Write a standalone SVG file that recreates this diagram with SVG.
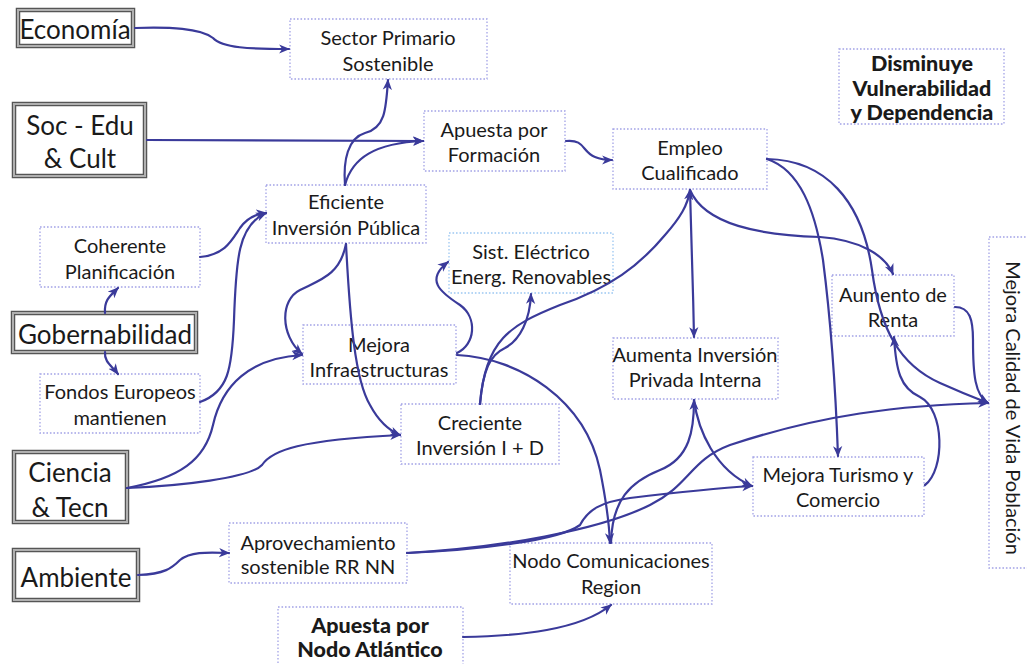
<svg xmlns="http://www.w3.org/2000/svg" width="1027" height="664" viewBox="0 0 1027 664">
<style>
text{font-family:Lato,"Open Sans","Liberation Sans",sans-serif;fill:#1a1a1a;text-anchor:middle}
.t{font-size:20px}
.b{font-size:21.5px;font-weight:900}
.h{font-size:26px}
.d{fill:#fff;stroke:#a3a3e6;stroke-width:1.3;stroke-dasharray:1.6 1.9}
.e{fill:#fff;stroke:#9cc7f2;stroke-width:1.3;stroke-dasharray:1.6 1.9}
.o{fill:#fff;stroke:#555;stroke-width:4.5}
.i{fill:none;stroke:#b0b0b0;stroke-width:2}
#edges path{fill:none;stroke:#3a3a9a;stroke-width:2.2;stroke-linecap:round}
</style>
<defs>
<marker id="a" viewBox="0 0 10 10" refX="9" refY="5" markerWidth="11" markerHeight="11" markerUnits="userSpaceOnUse" orient="auto"><path d="M0,0.8 L10,5 L0,9.2 L2.8,5 z" fill="#3a3a9a"/></marker>
</defs>
<rect width="1027" height="664" fill="#fff"/>

<g id="sector"><rect class="d" x="290" y="19" width="197" height="60"/><text class="t" x="388" y="45">Sector Primario</text><text class="t" x="388" y="71">Sostenible</text></g>
<g id="formacion"><rect class="d" x="424" y="111" width="141" height="60"/><text class="t" x="494" y="137">Apuesta por</text><text class="t" x="494" y="162">Formación</text></g>
<g id="empleo"><rect class="d" x="613" y="129" width="154" height="60"/><text class="t" x="690" y="155">Empleo</text><text class="t" x="690" y="180">Cualificado</text></g>
<g id="disminuye"><rect class="d" x="839" y="49" width="165" height="75"/><text class="b" x="922" y="71">Disminuye</text><text class="b" x="922" y="96">Vulnerabilidad</text><text class="b" x="922" y="120">y Dependencia</text></g>
<g id="eficiente"><rect class="d" x="266" y="185" width="160" height="58"/><text class="t" x="346" y="209">Eficiente</text><text class="t" x="346" y="235">Inversión Pública</text></g>
<g id="coherente"><rect class="d" x="40" y="227" width="160" height="60"/><text class="t" x="120" y="253">Coherente</text><text class="t" x="120" y="279">Planificación</text></g>
<g id="fondos"><rect class="d" x="40" y="374" width="160" height="59"/><text class="t" x="120" y="399">Fondos Europeos</text><text class="t" x="120" y="425">mantienen</text></g>
<g id="infraestructuras"><rect class="d" x="303" y="325" width="153" height="59"/><text class="t" x="379" y="352">Mejora</text><text class="t" x="379" y="377">Infraestructuras</text></g>
<g id="sistelectrico"><rect class="e" x="449" y="233" width="164" height="60"/><text class="t" x="531" y="259">Sist. Eléctrico</text><text class="t" x="531" y="284">Energ. Renovables</text></g>
<g id="creciente"><rect class="d" x="401" y="404" width="158" height="60"/><text class="t" x="480" y="430">Creciente</text><text class="t" x="480" y="455">Inversión I + D</text></g>
<g id="privada"><rect class="d" x="613" y="338" width="165" height="61"/><text class="t" x="695" y="362">Aumenta Inversión</text><text class="t" x="695" y="387">Privada Interna</text></g>
<g id="renta"><rect class="d" x="832" y="275" width="122" height="61"/><text class="t" x="893" y="302">Aumento de</text><text class="t" x="893" y="327">Renta</text></g>
<g id="calidad"><rect class="d" x="989" y="237" width="45" height="331"/><text class="t" transform="translate(1006,408) rotate(90)">Mejora Calidad de Vida Población</text></g>
<g id="turismo"><rect class="d" x="753" y="457" width="171" height="59"/><text class="t" x="838" y="482">Mejora Turismo y</text><text class="t" x="838" y="507">Comercio</text></g>
<g id="nodocom"><rect class="d" x="510" y="543" width="202" height="61"/><text class="t" x="611" y="568">Nodo Comunicaciones</text><text class="t" x="611" y="594">Region</text></g>
<g id="aprovechamiento"><rect class="d" x="229" y="523" width="178" height="60"/><text class="t" x="318" y="550">Aprovechamiento</text><text class="t" x="318" y="574">sostenible RR NN</text></g>
<g id="atlantico"><rect class="d" x="278" y="607" width="185" height="60"/><text class="b" x="370" y="633">Apuesta por</text><text class="b" x="370" y="657">Nodo Atlántico</text></g>

<g id="economia"><rect class="o" x="18" y="10" width="115" height="36"/><rect class="i" x="18" y="10" width="115" height="36"/><text class="h" x="75" y="39">Economía</text></g>
<g id="soc"><rect class="o" x="14" y="104" width="131" height="72"/><rect class="i" x="14" y="104" width="131" height="72"/><text class="h" x="80" y="135">Soc - Edu</text><text class="h" x="80" y="168">&amp; Cult</text></g>
<g id="gobernabilidad"><rect class="o" x="13" y="313" width="183" height="39"/><rect class="i" x="13" y="313" width="183" height="39"/><text class="h" x="105" y="344">Gobernabilidad</text></g>
<g id="ciencia"><rect class="o" x="14" y="452" width="113" height="70"/><rect class="i" x="14" y="452" width="113" height="70"/><text class="h" x="70" y="482">Ciencia</text><text class="h" x="70" y="517">&amp; Tecn</text></g>
<g id="ambiente"><rect class="o" x="14" y="550" width="124" height="50"/><rect class="i" x="14" y="550" width="124" height="50"/><text class="h" x="76" y="587">Ambiente</text></g>

<g id="edges">
<path marker-end="url(#a)" d="M135,28 C170,27 200,28 213,38 C222,48 250,49 289,49"/>
<path marker-end="url(#a)" d="M147,140 L423,141"/>
<path marker-end="url(#a)" d="M345,185 C343,160 348,138 365,133 C385,128 386,110 388,80"/>
<path marker-end="url(#a)" d="M345,185 C352,158 375,143 423,141"/>
<path marker-end="url(#a)" d="M566,141 C585,139 582,152 595,157 C602,160 607,160 612,160"/>
<path marker-end="url(#a)" d="M200,257 C225,255 232,240 240,228 C247,218 255,214 266,213"/>
<path marker-end="url(#a)" d="M200,402 C228,392 232,370 234,320 C236,260 238,225 266,213"/>
<path marker-end="url(#a)" d="M105,313 C104,300 110,296 118,288"/>
<path marker-end="url(#a)" d="M105,352 C104,362 112,366 118,374"/>
<path marker-end="url(#a)" d="M346,244 C340,275 320,280 300,290 C280,300 280,335 302,354"/>
<path marker-end="url(#a)" d="M346,244 C350,320 355,380 370,405 C378,420 388,430 400,435"/>
<path marker-end="url(#a)" d="M127,488 C180,478 205,460 213,425 C222,385 250,358 302,355"/>
<path marker-end="url(#a)" d="M127,488 C180,486 250,478 262,465 C272,450 300,440 400,435"/>
<path marker-end="url(#a)" d="M457,353 C475,345 478,318 460,305 C440,292 425,280 448,262"/>
<path marker-end="url(#a)" d="M457,355 C520,358 585,400 600,470 C606,500 609,520 610,543"/>
<path marker-end="url(#a)" d="M480,404 C483,370 490,355 505,348 C520,340 530,320 531,294"/>
<path marker-end="url(#a)" d="M480,404 C485,340 510,325 560,305 C610,288 640,265 665,235 C680,218 688,205 690,190"/>
<path marker-end="url(#a)" d="M690,190 C692,250 693,290 694,337"/>
<path marker-end="url(#a)" d="M690,190 C705,225 760,235 820,237 C860,240 885,255 893,274"/>
<path marker-end="url(#a)" d="M767,159 C800,170 815,210 823,260 C832,330 836,400 838,456"/>
<path marker-end="url(#a)" d="M767,159 C825,160 862,200 872,270 C880,330 900,365 940,383 C960,392 975,398 988,403"/>
<path marker-end="url(#a)" d="M955,307 C970,307 973,320 973,340 C973,375 975,395 988,403"/>
<path marker-end="url(#a)" d="M925,485 C945,470 945,410 920,397 C900,388 896,370 894,337"/>
<path marker-end="url(#a)" d="M407,553 C500,548 600,530 650,505 C690,485 690,460 730,445 C820,415 900,405 988,403"/>
<path marker-end="url(#a)" d="M407,553 C480,550 560,540 580,525 C588,510 600,502 630,498 C680,492 720,488 752,486"/>
<path marker-end="url(#a)" d="M611,543 C612,500 630,482 660,470 C690,458 694,430 694,400"/>
<path marker-end="url(#a)" d="M694,400 C698,430 715,470 752,486"/>
<path marker-end="url(#a)" d="M463,637 C520,636 580,630 611,605"/>
<path marker-end="url(#a)" d="M138,575 C165,574 172,568 180,560 C190,552 205,552 229,553"/>
</g>
</svg>
